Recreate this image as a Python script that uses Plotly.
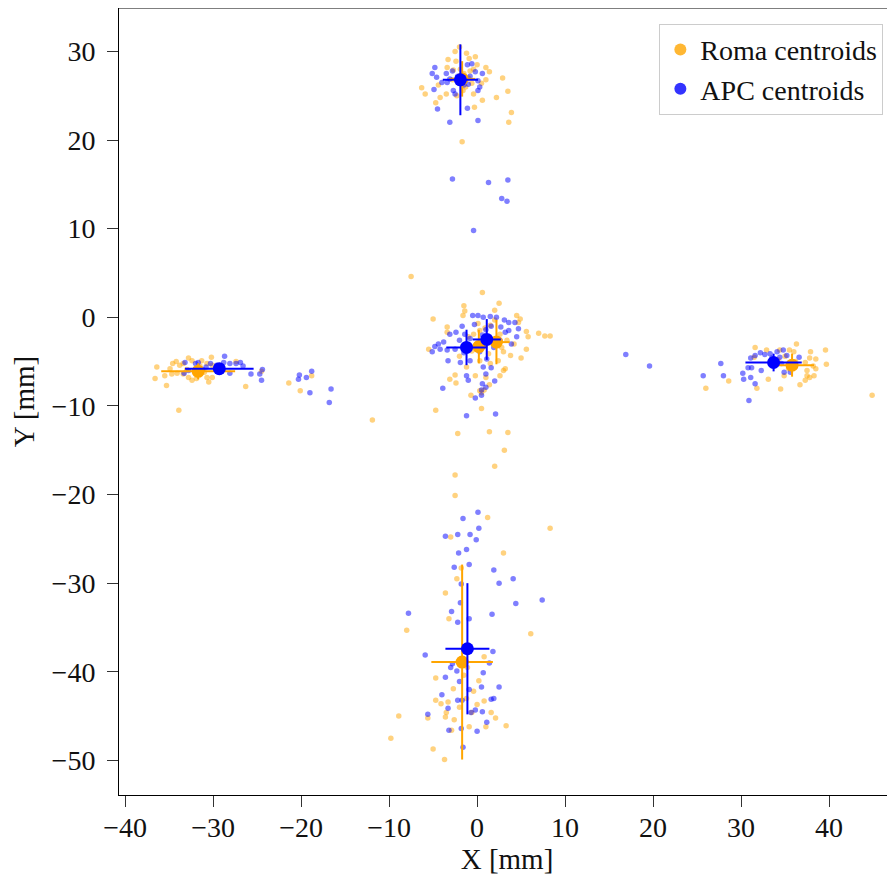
import plotly.graph_objects as go

# ---------------- scatter points (X, Y in mm) ----------------
roma_top = [(-2.0,30.5),(-3.3,29.1),(-2.4,28.9),(-0.9,29.2),(-0.2,29.4),(0.0,28.5),(1.0,28.2),(1.4,27.7),
            (2.9,27.0),(1.0,26.8),(3.5,25.5),(2.2,24.8),(0.6,24.5),(-0.4,25.2),(-0.3,23.7),(3.9,23.1),
            (3.6,22.0),(-1.7,19.8),(-6.3,25.9),(-5.9,25.2),(-4.7,24.2),(-4.2,24.8),(-3.5,25.2),(-4.4,26.2),
            (-3.4,28.2),(-2.7,27.9),(-0.4,28.0),(-0.6,26.4),(-2.3,25.0),(0.5,26.4),(-1.5,27.5),(-1.0,27.0),
            (-2.2,26.5),(-1.3,26.0),(-0.8,27.8),(-2.8,26.8),(-1.9,28.0),(-1.2,29.8),(-2.5,30.0),(-1.6,25.6),
            (-7.5,4.6)]
roma_center = [(0.6,2.8),(-1.5,1.3),(2.5,1.6),(2.0,0.8),(-1.4,0.7),(-1.6,0.2),(-5.0,-0.2),(4.5,0.2),
               (4.9,-0.2),(5.6,-1.6),(7.0,-1.8),(7.7,-2.1),(8.3,-2.1),(5.8,-2.2),(5.6,-3.6),(5.0,-4.6),
               (3.8,-4.3),(3.0,-6.0),(2.6,-6.6),(-2.5,-6.5),(-3.1,-7.0),(-2.4,-7.4),(-0.7,-8.8),(0.5,-10.3),
               (-4.7,-10.5),(-5.5,-3.6),(-3.4,-1.1),(0.1,-0.7),(1.5,-0.9),(0.3,-1.5),(-0.4,-1.9),(2.6,-1.9),
               (3.4,-2.6),(1.3,-4.1),(0.3,-4.9),(1.5,-5.2),(2.4,-4.9),(3.0,-3.9),(1.0,-6.8),(-0.2,-6.6),
               (0.3,-8.3),(3.2,-5.8),(-3.4,-1.7),(4.7,-0.6),(0.5,-8.5),(0.8,-8.2),(1.4,-7.6),(-1.0,-2.2),
               (1.8,-3.0),(-0.6,-3.8),(2.8,-3.4),(-2.0,-4.4),(0.9,-1.2),(-1.2,-5.6),(4.2,-3.0),(2.0,-0.3)]
roma_lower = [(-11.9,-11.6),(-2.2,-13.1),(1.4,-12.9),(3.5,-13.0),(3.1,-15.0),(2.0,-16.8),(-2.5,-17.8),
              (-2.5,-20.1),(1.2,-22.6)]
roma_bottom = [(-3.0,-24.8),(8.3,-23.8),(3.0,-26.6),(-1.8,-28.3),(-2.3,-29.5),(-3.6,-31.1),(-3.2,-34.0),
               (-8.0,-35.3),(6.1,-35.7),(0.8,-38.3),(-1.1,-39.5),(-4.7,-40.7),(-1.5,-40.4),(-2.7,-41.9),
               (-0.4,-42.2),(-4.7,-43.2),(-4.1,-43.6),(-3.3,-43.4),(0.0,-43.7),(0.2,-41.0),(0.8,-43.3),
               (-3.5,-44.6),(-3.6,-45.1),(-2.6,-45.4),(-0.6,-44.6),(1.6,-44.6),(2.1,-45.2),(3.3,-46.1),
               (-0.9,-46.2),(1.0,-46.2),(-5.6,-45.2),(-8.9,-45.0),(-9.8,-47.5),(-5.0,-48.7),(-2.9,-46.6),
               (-3.7,-49.9),(-1.2,-43.0),(-2.0,-44.0)]
roma_left = [(-36.4,-5.6),(-36.6,-6.9),(-35.3,-7.7),(-35.5,-6.6),(-34.7,-6.4),(-34.6,-5.2),(-34.2,-5.0),
             (-33.8,-5.4),(-33.4,-5.2),(-32.8,-4.6),(-32.4,-4.9),(-31.3,-4.9),(-30.2,-4.5),(-30.7,-5.2),
             (-30.1,-5.4),(-33.4,-6.4),(-32.8,-6.8),(-32.4,-7.1),(-31.9,-6.9),(-30.7,-6.8),(-30.5,-7.3),
             (-30.1,-6.8),(-34.1,-6.3),(-34.9,-5.8),(-33.9,-10.5),(-26.3,-7.8),(-27.4,-5.0),(-24.5,-6.1),
             (-21.4,-7.4),(-20.1,-8.3),(-18.8,-6.6),(-32.0,-5.8),(-31.0,-6.2),(-33.0,-5.9),(-29.5,-5.9),
             (-31.5,-5.5)]
roma_right = [(31.6,-3.4),(32.9,-3.7),(34.4,-3.7),(35.5,-3.7),(36.3,-3.0),(36.0,-3.9),(37.9,-3.9),
              (39.6,-3.7),(38.5,-4.7),(37.8,-4.6),(39.7,-5.3),(38.2,-5.5),(38.5,-5.8),(37.3,-5.1),
              (37.5,-6.0),(37.5,-6.6),(38.3,-6.6),(37.8,-6.8),(37.3,-7.1),(36.7,-7.6),(34.9,-6.6),
              (33.1,-7.0),(31.8,-8.0),(34.5,-8.1),(31.5,-4.5),(28.6,-7.2),(26.0,-8.0),(44.9,-8.8),
              (35.0,-4.4),(36.2,-5.0),(34.2,-4.8),(35.4,-5.8)]

apc_top = [(-4.8,28.2),(-5.1,27.5),(-4.6,27.1),(-4.0,26.5),(-3.5,27.5),(-3.1,26.9),(-4.9,25.7),(-4.5,23.5),
           (-3.1,22.0),(-2.7,25.6),(-2.5,25.2),(-1.1,28.5),(-0.6,28.6),(-0.2,27.7),(0.6,27.5),(0.1,26.7),
           (0.3,26.0),(0.1,25.6),(-1.0,26.3),(-1.1,23.6),(0.1,22.2),(-3.4,26.5),(-2.2,27.2),(-1.5,26.2),
           (-2.8,27.8),(-0.8,27.2),
           (-2.8,15.6),(1.3,15.2),(3.5,15.5),(2.8,13.4),(3.4,13.1),(-0.4,9.8)]
apc_center = [(-0.5,0.2),(0.1,0.2),(0.7,0.0),(1.5,0.1),(2.2,0.0),(3.1,-0.3),(3.6,-0.6),(4.3,-0.6),
              (4.7,-1.3),(4.5,-2.2),(3.9,-3.0),(-2.4,-1.7),(-1.7,-1.0),(-3.1,-1.9),(-3.8,-2.8),(-4.4,-3.0),
              (-4.8,-3.3),(-4.2,-3.6),(-5.1,-3.9),(-3.4,-3.7),(-2.5,-3.6),(-3.3,-4.9),(-1.9,-5.1),(-0.8,-4.9),
              (0.7,-5.6),(1.6,-5.7),(1.0,-6.4),(-1.2,-6.6),(-1.0,-7.1),(0.6,-7.5),(2.0,-7.2),(1.0,-7.9),
              (0.5,-8.2),(-3.9,-8.0),(-0.2,-9.1),(0.5,-8.8),(-1.2,-11.1),(2.1,-10.9),(2.7,-1.1),(3.2,-1.7),
              (1.0,-1.4),(-1.4,-1.9),(-0.8,-2.4),(0.0,-3.2),(1.9,-3.4),(2.6,-2.6),(3.6,-1.5),(0.3,-3.9),
              (1.1,-4.7),(-2.0,-2.6),(-1.5,-4.0),(0.6,-2.0),(1.6,-1.0),(-0.3,-0.8),
              (16.9,-4.2),(19.6,-5.5)]
apc_bottom = [(0.1,-22.0),(-1.6,-22.7),(0.2,-23.8),(-3.6,-24.7),(-2.2,-24.5),(-0.8,-24.5),(-0.1,-25.1),
              (-2.1,-26.6),(-1.2,-26.2),(-2.6,-28.2),(-0.9,-27.9),(1.9,-28.5),(2.5,-30.0),(4.1,-29.5),
              (-1.8,-30.1),(7.4,-31.9),(4.4,-32.3),(-1.9,-32.2),(-7.8,-33.4),(-2.9,-33.2),(1.7,-33.5),
              (-2.2,-34.4),(-0.9,-34.0),(-5.9,-38.1),(1.8,-37.7),(1.4,-39.0),(-2.8,-39.1),(-3.0,-39.5),
              (-2.3,-39.9),(0.7,-40.1),(-3.6,-40.6),(-2.0,-41.1),(0.5,-41.7),(2.5,-41.7),(-0.9,-42.0),
              (-4.0,-42.6),(-2.2,-43.2),(-1.7,-43.2),(1.6,-43.1),(1.9,-43.0),(-3.3,-44.1),(-0.2,-44.3),
              (0.6,-44.5),(-5.6,-44.8),(-0.7,-44.6),(1.1,-45.7),(-1.8,-46.4),(-3.2,-46.6),(0.0,-46.7),
              (-1.6,-48.5)]
apc_left = [(-33.2,-5.1),(-32.0,-5.2),(-31.7,-5.1),(-30.3,-5.2),(-28.7,-4.4),(-28.8,-5.1),(-28.1,-5.2),
            (-27.4,-5.2),(-26.9,-5.1),(-26.6,-5.5),(-28.1,-6.3),(-25.7,-6.4),(-24.7,-6.4),(-24.4,-5.9),
            (-24.5,-7.1),(-33.3,-6.3),(-32.8,-6.0),(-30.8,-5.6),(-29.6,-5.4),(-31.2,-5.9),
            (-20.2,-6.5),(-20.3,-7.0),(-19.4,-6.8),(-18.8,-6.1),(-19.0,-8.5),(-16.6,-8.1),(-16.8,-9.6)]
apc_right = [(27.7,-5.2),(25.7,-6.6),(28.0,-6.6),(30.2,-6.3),(30.8,-5.7),(31.2,-5.7),(30.3,-7.0),
             (31.1,-6.8),(31.6,-7.5),(30.9,-9.4),(32.3,-6.0),(31.1,-4.6),(31.6,-4.3),(32.2,-4.0),
             (32.7,-4.2),(33.3,-4.1),(34.1,-3.9),(34.4,-4.5),(34.8,-3.7),(34.6,-5.2),(34.9,-6.2),
             (35.6,-6.2),(36.6,-4.5),(33.5,-4.6),(35.2,-4.3)]

# ---------------- centroids ----------------
roma_cx = [-1.7, 0.2, 2.2, -31.7, 35.8, -1.7]
roma_cy = [26.9, -3.3, -2.8, -6.1, -5.4, -38.9]
roma_cxerr = [1.5, 1.0, 1.5, 4.2, 2.5, 3.5]
roma_cyerr = [2.0, 1.9, 2.5, 0.9, 1.3, 11.0]

apc_cx = [-1.9, -1.2, 1.1, -29.3, 33.7, -1.1]
apc_cy = [26.8, -3.4, -2.5, -5.8, -5.1, -37.4]
apc_cxerr = [2.0, 2.3, 1.6, 3.9, 3.2, 2.5]
apc_cyerr = [4.0, 2.0, 2.3, 0.5, 1.0, 7.4]

x_ticks = [-40, -30, -20, -10, 0, 10, 20, 30, 40]
y_ticks = [30, 20, 10, 0, -10, -20, -30, -40, -50]

ORANGE = "#FFA500"
BLUE = "#0000FF"

roma_pts = roma_top + roma_center + roma_lower + roma_bottom + roma_left + roma_right
apc_pts = apc_top + apc_center + apc_bottom + apc_left + apc_right

fig = go.Figure()
fig.add_trace(go.Scatter(x=[p[0] for p in roma_pts], y=[p[1] for p in roma_pts], mode="markers",
                         marker=dict(color=ORANGE, size=5.5, opacity=0.5, line=dict(width=0)),
                         showlegend=False, hoverinfo="skip"))
fig.add_trace(go.Scatter(x=[p[0] for p in apc_pts], y=[p[1] for p in apc_pts], mode="markers",
                         marker=dict(color=BLUE, size=5.5, opacity=0.5, line=dict(width=0)),
                         showlegend=False, hoverinfo="skip"))
fig.add_trace(go.Scatter(x=roma_cx, y=roma_cy, mode="markers",
                         marker=dict(color=ORANGE, size=13, line=dict(width=0)),
                         error_x=dict(type="data", array=roma_cxerr, color=ORANGE, thickness=2, width=0),
                         error_y=dict(type="data", array=roma_cyerr, color=ORANGE, thickness=2, width=0),
                         showlegend=False))
fig.add_trace(go.Scatter(x=apc_cx, y=apc_cy, mode="markers",
                         marker=dict(color=BLUE, size=13, line=dict(width=0)),
                         error_x=dict(type="data", array=apc_cxerr, color=BLUE, thickness=2, width=0),
                         error_y=dict(type="data", array=apc_cyerr, color=BLUE, thickness=2, width=0),
                         showlegend=False))
fig.add_trace(go.Scatter(x=[None], y=[None], mode="markers", name="Roma centroids",
                         marker=dict(color=ORANGE, size=12, opacity=0.8)))
fig.add_trace(go.Scatter(x=[None], y=[None], mode="markers", name="APC centroids",
                         marker=dict(color=BLUE, size=12, opacity=0.8)))

FONT = "Liberation Serif, DejaVu Serif, serif"
axis_common = dict(showgrid=False, zeroline=False, showline=True, linecolor="black", linewidth=1,
                   ticks="outside", ticklen=11, tickcolor="#333333", tickwidth=1,
                   tickfont=dict(family=FONT, size=28, color="#111111"))

def fmt(v):
    return ("−" + str(-v)) if v < 0 else str(v)

fig.update_layout(
    width=887, height=870,
    margin=dict(l=111, r=0, t=0, b=83),
    paper_bgcolor="white", plot_bgcolor="white",
    font=dict(family=FONT, color="#111111"),
    xaxis=dict(range=[-40.7, 47.5], tickvals=x_ticks, ticktext=[fmt(v) for v in x_ticks],
               ticklabelstandoff=-4,
               title=dict(text="X [mm]", font=dict(family=FONT, size=29), standoff=6), **axis_common),
    yaxis=dict(range=[-53.9, 34.9], tickvals=y_ticks, ticktext=[fmt(v) for v in y_ticks],
               ticklabelstandoff=6,
               title=dict(text="Y [mm]", font=dict(family=FONT, size=29), standoff=12), **axis_common),
    legend=dict(x=0.985, y=0.98, xanchor="right", yanchor="top", bgcolor="white",
                bordercolor="#cccccc", borderwidth=1, font=dict(family=FONT, size=28),
                itemwidth=30, tracegroupgap=0),
    shapes=[dict(type="line", xref="paper", yref="paper", x0=0, x1=1, y0=1, y1=1,
                 line=dict(color="black", width=1))],
)

fig.write_html("out.html")
